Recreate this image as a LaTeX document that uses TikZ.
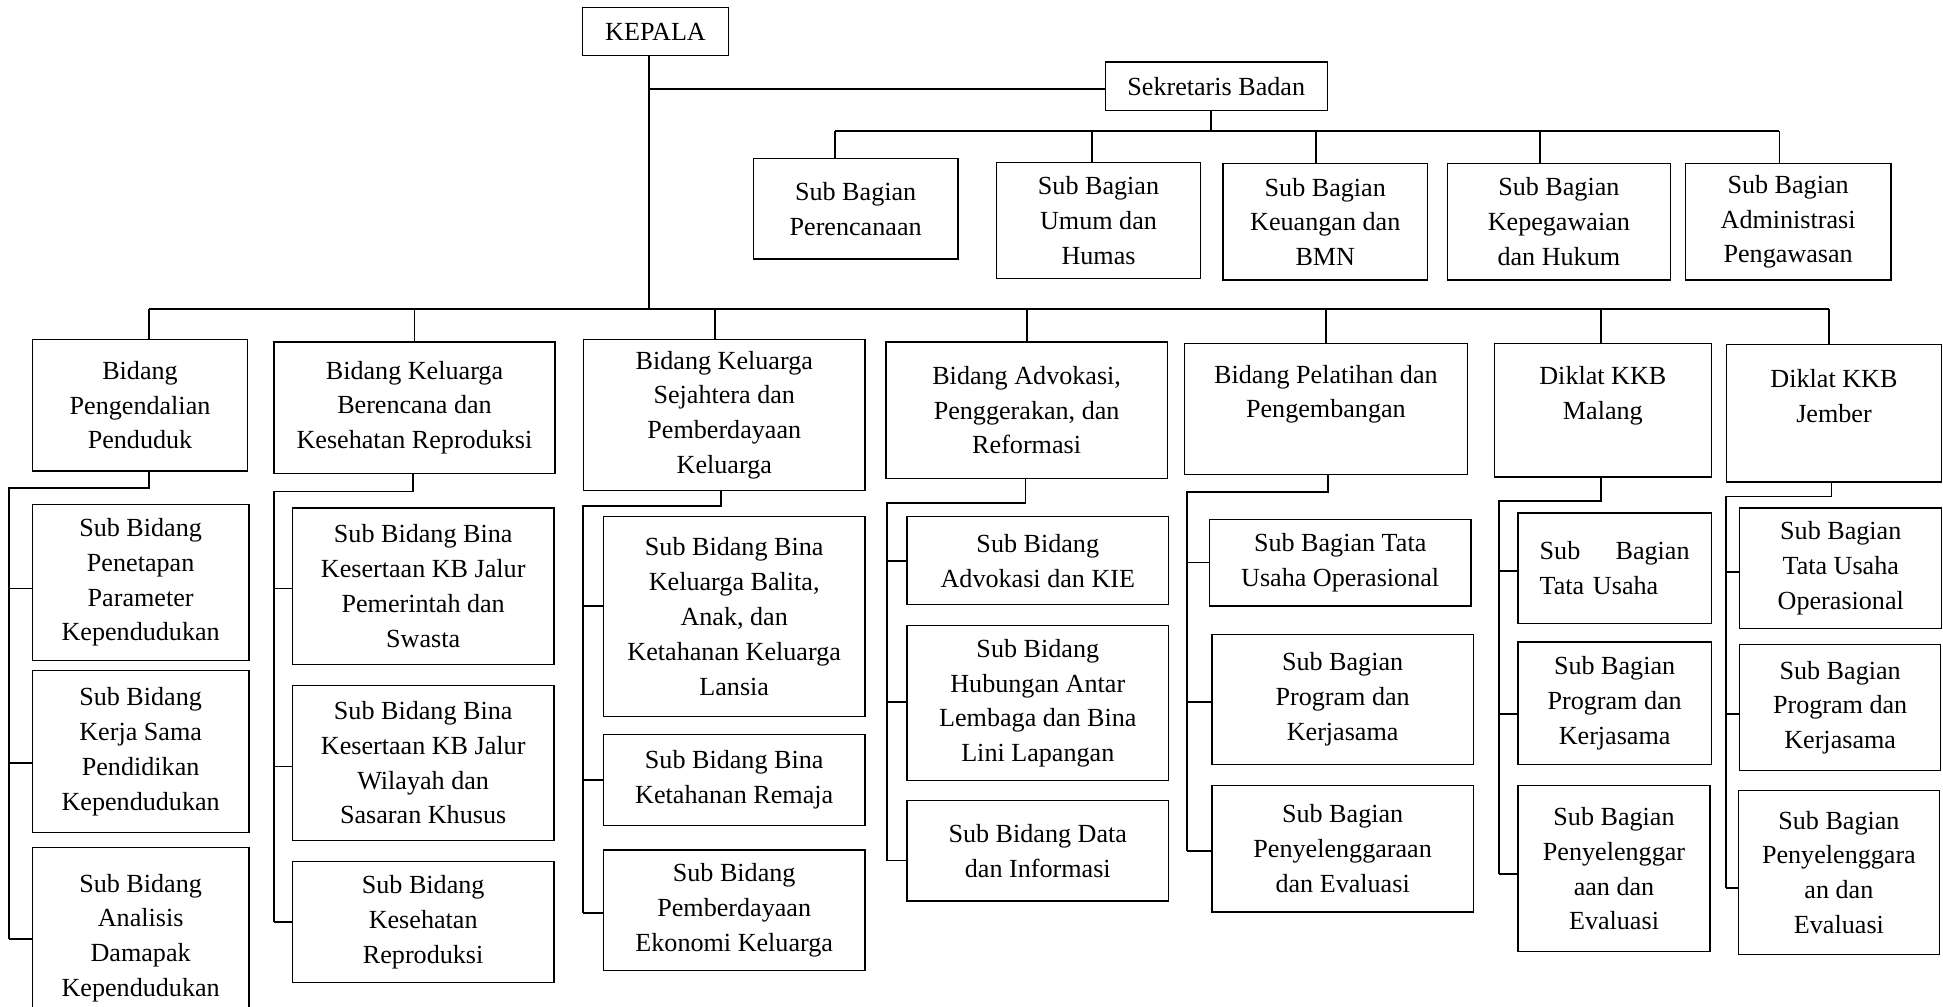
\documentclass[tikz,border=0pt]{standalone}
\usepackage{fontspec}
\setmainfont{Liberation Serif}
\usepackage{tikz}
\usetikzlibrary{calc}

\begin{document}
\begin{tikzpicture}[
    x=0.02cm, y=-0.02cm,
    box/.style={draw, line width=0.6pt, inner sep=0pt, align=center,
                font=\fontsize{12}{16}\selectfont},
    boxat/.style n args={4}{at={({(#1+#3)/2},{(#2+#4)/2})},
                minimum width={(#3-#1)*0.02cm}, minimum height={(#4-#2)*0.02cm}},
    link/.style={line width=0.8pt}
  ]
  \useasboundingbox (0,0) rectangle (1568,812);

  % Head and secretary
  \node[box, boxat={470}{6}{588}{45}]      (kepala)     {KEPALA};
  \node[box, boxat={892}{50}{1071}{89}]    (sekretaris) {Sekretaris Badan};

  \node[box, boxat={608}{128}{773}{209}]   (perenc) {Sub Bagian\\Perencanaan};
  \node[box, boxat={804}{131}{969}{225}]   (umum)   {Sub Bagian\\Umum dan\\Humas};
  \node[box, boxat={987}{132}{1152}{226}]  (keu)    {Sub Bagian\\Keuangan dan\\BMN};
  \node[box, boxat={1168}{132}{1348}{226}] (kepeg)  {Sub Bagian\\Kepegawaian\\dan Hukum};
  \node[box, boxat={1360}{132}{1526}{226}] (admin)  {Sub Bagian\\Administrasi\\Pengawasan};

  % Bidang row
  \node[box, boxat={26}{274}{200}{380}]    (bidpp)  {Bidang\\Pengendalian\\Penduduk};
  \node[box, boxat={221}{276}{448}{382}]   (bidkb)  {Bidang Keluarga\\Berencana dan\\Kesehatan Reproduksi};
  \node[box, boxat={471}{274}{698}{396}]   (bidks)  {Bidang Keluarga\\Sejahtera dan\\Pemberdayaan\\Keluarga};
  \node[box, boxat={715}{276}{942}{386}]   (bidadv) {Bidang Advokasi,\\Penggerakan, dan\\Reformasi};
  \node[box, boxat={956}{277}{1184}{383}]  (bidlat) {Bidang Pelatihan dan\\Pengembangan\\~};
  \node[box, boxat={1206}{277}{1381}{385}] (dikmlg) {Diklat KKB\\Malang\\~};
  \node[box, boxat={1393}{278}{1567}{389}] (dikjbr) {Diklat KKB\\Jember\\~};

  % Sub units, column by column
  \node[box, boxat={26}{407}{201}{533}]    (pp1) {Sub Bidang\\Penetapan\\Parameter\\Kependudukan};
  \node[box, boxat={26}{541}{201}{672}]    (pp2) {Sub Bidang\\Kerja Sama\\Pendidikan\\Kependudukan};
  \node[box, boxat={26}{684}{201}{830}]    (pp3) {Sub Bidang\\Analisis\\Damapak\\Kependudukan};

  \node[box, boxat={236}{410}{447}{536}]   (kb1) {Sub Bidang Bina\\Kesertaan KB Jalur\\Pemerintah dan\\Swasta};
  \node[box, boxat={236}{553}{447}{678}]   (kb2) {Sub Bidang Bina\\Kesertaan KB Jalur\\Wilayah dan\\Sasaran Khusus};
  \node[box, boxat={236}{695}{447}{793}]   (kb3) {Sub Bidang\\Kesehatan\\Reproduksi};

  \node[box, boxat={487}{417}{698}{578}]   (ks1) {Sub Bidang Bina\\Keluarga Balita,\\Anak, dan\\Ketahanan Keluarga\\Lansia};
  \node[box, boxat={487}{593}{698}{666}]   (ks2) {Sub Bidang Bina\\Ketahanan Remaja};
  \node[box, boxat={487}{686}{698}{783}]   (ks3) {Sub Bidang\\Pemberdayaan\\Ekonomi Keluarga};

  \node[box, boxat={732}{417}{943}{488}]   (adv1) {Sub Bidang\\Advokasi dan KIE};
  \node[box, boxat={732}{505}{943}{630}]   (adv2) {Sub Bidang\\Hubungan Antar\\Lembaga dan Bina\\Lini Lapangan};
  \node[box, boxat={732}{646}{943}{727}]   (adv3) {Sub Bidang Data\\dan Informasi};

  \node[box, boxat={976}{419}{1187}{489}]  (lat1) {Sub Bagian Tata\\Usaha Operasional};
  \node[box, boxat={978}{512}{1189}{617}]  (lat2) {Sub Bagian\\Program dan\\Kerjasama};
  \node[box, boxat={978}{634}{1189}{736}]  (lat3) {Sub Bagian\\Penyelenggaraan\\dan Evaluasi};

  \node[box, boxat={1225}{414}{1381}{503}, align=left, text width=2.42cm]
                                           (mlg1) {Sub\hfill Bagian\\Tata Usaha};
  \node[box, boxat={1225}{518}{1381}{617}] (mlg2) {Sub Bagian\\Program dan\\Kerjasama};
  \node[box, boxat={1225}{634}{1380}{768}] (mlg3) {Sub Bagian\\Penyelenggar\\aan dan\\Evaluasi};

  \node[box, boxat={1404}{410}{1567}{507}] (jbr1) {Sub Bagian\\Tata Usaha\\Operasional};
  \node[box, boxat={1404}{520}{1566}{622}] (jbr2) {Sub Bagian\\Program dan\\Kerjasama};
  \node[box, boxat={1403}{638}{1565}{770}] (jbr3) {Sub Bagian\\Penyelenggara\\an dan\\Evaluasi};

  % Bus lines
  \coordinate (sbus) at (0,105.5);
  \coordinate (bus)  at (0,249.5);

  % Trunk from the head, branch to the secretary
  \draw[link] ($(kepala.south)+(-5,0)$) coordinate (trunk) -- (trunk |- bus);
  \draw[link] ($(sekretaris.west)+(0,2.5)$) coordinate (sek) -- (sek -| trunk);

  % Secretary to its sub units
  \draw[link] ($(sekretaris.south)+(-4.5,0)$) coordinate (tsek) -- (tsek |- sbus);
  \foreach \n/\dx in {perenc/-16.5, umum/-5.5, keu/-7.5, kepeg/-15, admin/-7}
    \draw[link] ($(\n.north)+(\dx,0)$) coordinate (t\n) -- (t\n |- sbus) coordinate (d\n);
  \draw[link] (dperenc) -- (dadmin);

  % Head to the bidang row
  \foreach \n/\dx in {bidpp/7, bidkb/0, bidks/-7.5, bidadv/0, bidlat/0, dikmlg/-1.5, dikjbr/-4}
    \draw[link] ($(\n.north)+(\dx,0)$) coordinate (t\n) -- (t\n |- bus) coordinate (d\n);
  \draw[link] (dbidpp) -- (ddikjbr);

  % Spines on the left of each column
  \coordinate (sp1) at (7,394);
  \coordinate (sp2) at (221,396.6);
  \coordinate (sp3) at (470.7,408.5);
  \coordinate (sp4) at (715.5,405.7);
  \coordinate (sp5) at (957.6,397);
  \coordinate (sp6) at (1209.8,404.4);
  \coordinate (sp7) at (1392.7,400.6);

  \foreach \s/\n/\dy in {sp1/pp1/5, sp1/pp2/9.5, sp1/pp3/1,
                         sp2/kb1/2, sp2/kb2/3, sp2/kb3/0,
                         sp3/ks1/-8.5, sp3/ks2/0, sp3/ks3/2,
                         sp4/adv1/0, sp4/adv2/-1, sp4/adv3/8,
                         sp5/lat1/0, sp5/lat2/2, sp5/lat3/1.5,
                         sp6/mlg1/2.5, sp6/mlg2/8.5, sp6/mlg3/4.4,
                         sp7/jbr1/3, sp7/jbr2/5, sp7/jbr3/12.7}
    \draw[link] ($(\n.west)+(0,\dy)$) coordinate (b\n) -- (\s |- b\n);

  \foreach \h/\dx/\s/\l in {bidpp/7/sp1/pp3, bidkb/-1.5/sp2/kb3, bidks/-2.5/sp3/ks3,
                            bidadv/-1/sp4/adv3, bidlat/1.5/sp5/lat3,
                            dikmlg/-1.5/sp6/mlg3, dikjbr/-2/sp7/jbr3}
    \draw[link] ($(\h.south)+(\dx,0)$) |- (\s) -- (\s |- b\l);

\end{tikzpicture}
\end{document}
